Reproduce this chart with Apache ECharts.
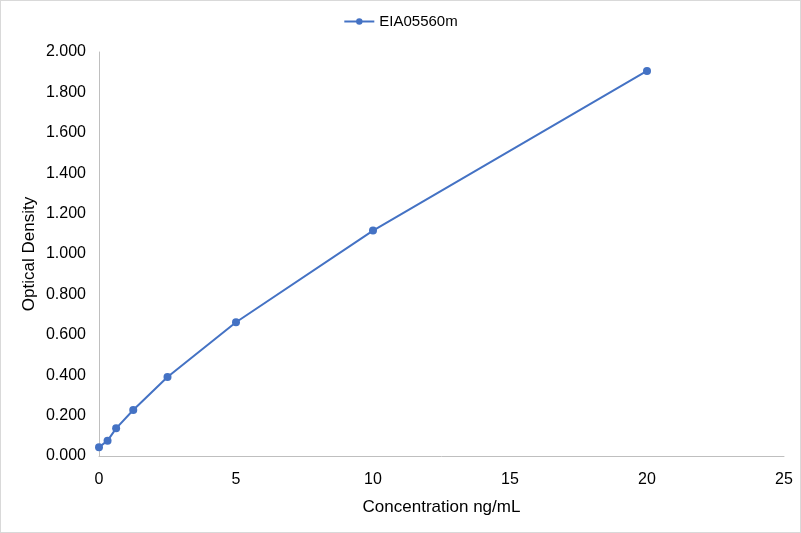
<!DOCTYPE html>
<html>
<head>
<meta charset="utf-8">
<script src="https://cdn.jsdelivr.net/npm/echarts@6/dist/echarts.min.js"></script>
<style>
  html, body { margin: 0; padding: 0; background: #fff; }
  #container { width: 799px; height: 531px; border: 1px solid #d9d9d9; }
</style>
</head>
<body>
<div id="container"></div>
<script>
var dom = document.getElementById('container');
var myChart = echarts.init(dom);

// concentration (ng/mL) and optical density readings
let concentration = [0, 0.3125, 0.625, 1.25, 2.5, 5, 10, 20]
let density = [0.043, 0.076, 0.137, 0.228, 0.391, 0.662, 1.116, 1.906]
let seriesName = 'EIA05560m'

let points = concentration.map(function (c, i) { return [c, density[i]] })

option = {
    backgroundColor: '#ffffff',
    textStyle: { fontFamily: 'Liberation Sans, Arial, sans-serif' },
    legend: {
        data: [seriesName],
        top: 8,
        left: 'center',
        itemWidth: 30,
        itemHeight: 8,
        textStyle: { color: '#000000', fontSize: 15 }
    },
    grid: {
        left: 98,
        right: 16,
        top: 51,
        bottom: 76
    },
    xAxis: {
        type: 'value',
        min: 0,
        max: 25,
        interval: 5,
        name: 'Concentration ng/mL',
        nameLocation: 'middle',
        nameGap: 43,
        nameMoveOverlap: false,
        nameTextStyle: { color: '#000000', fontSize: 17 },
        axisLine: { show: true, lineStyle: { color: '#bfbfbf' } },
        axisTick: { show: false },
        splitLine: { show: false },
        axisLabel: { color: '#000000', fontSize: 16, margin: 16 }
    },
    yAxis: {
        type: 'value',
        min: 0,
        max: 2,
        interval: 0.2,
        name: 'Optical Density',
        nameLocation: 'middle',
        nameGap: 61,
        nameMoveOverlap: false,
        nameTextStyle: { color: '#000000', fontSize: 17 },
        axisLine: { show: true, lineStyle: { color: '#bfbfbf' } },
        axisTick: { show: false },
        splitLine: { show: false },
        axisLabel: {
            color: '#000000',
            fontSize: 16,
            margin: 13,
            formatter: function (v) { return v.toFixed(3) }
        }
    },
    series: [{
        name: seriesName,
        type: 'line',
        symbol: 'circle',
        symbolSize: 8,
        itemStyle: { color: '#4472c4' },
        lineStyle: { color: '#4472c4', width: 2 },
        data: points
    }]
};
myChart.setOption(option);

window.addEventListener('resize', function () {
    myChart.resize();
});
</script>
</body>
</html>
